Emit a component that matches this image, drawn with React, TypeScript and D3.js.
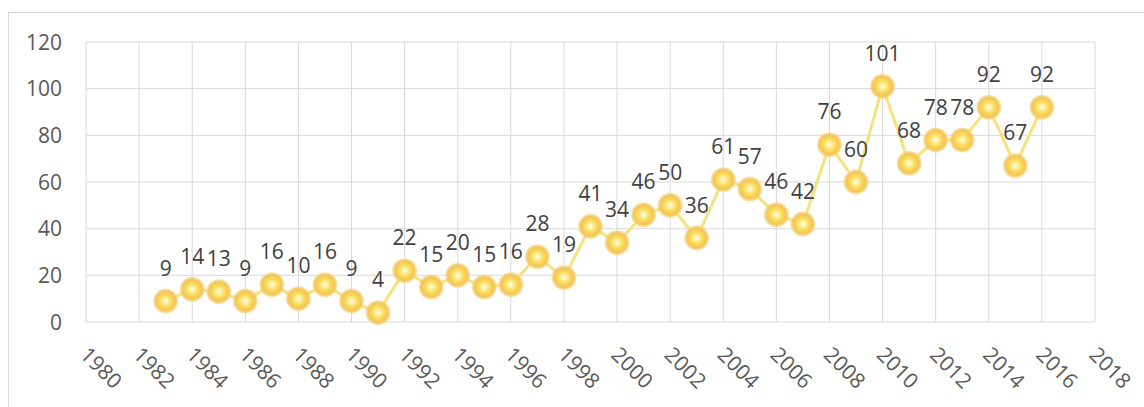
import React from "react";
import * as d3 from "d3";

const years = [1983,1984,1985,1986,1987,1988,1989,1990,1991,1992,1993,1994,1995,1996,1997,1998,1999,2000,2001,2002,2003,2004,2005,2006,2007,2008,2009,2010,2011,2012,2013,2014,2015,2016];
const values = [9,14,13,9,16,10,16,9,4,22,15,20,15,16,28,19,41,34,46,50,36,61,57,46,42,76,60,101,68,78,78,92,67,92];
const xTicks = [1980,1982,1984,1986,1988,1990,1992,1994,1996,1998,2000,2002,2004,2006,2008,2010,2012,2014,2016,2018];
const yTicks = [0,20,40,60,80,100,120];

const W = 1144, H = 407;
const L = 86, R = 1095, T = 42, B = 322;

export default function App() {
  const x = d3.scaleLinear().domain([1980, 2018]).range([L, R]);
  const y = d3.scaleLinear().domain([0, 120]).range([B, T]);
  const line = d3.line<number>().x((_, i) => x(years[i])).y(d => y(d));
  const font = "'Open Sans', sans-serif";
  return (
    <div style={{ position: "absolute", left: 0, top: 0 }}>
      <svg width={W} height={H} style={{ display: "block", background: "#fff" }}>
        <defs>
          <radialGradient id="mk" cx="50%" cy="50%" r="50%">
            <stop offset="0%" stopColor="#fffdf0" />
            <stop offset="20%" stopColor="#fdf0a8" />
            <stop offset="48%" stopColor="#f9dc55" />
            <stop offset="78%" stopColor="#f3c45e" />
            <stop offset="100%" stopColor="#f6d270" stopOpacity={0.55} />
          </radialGradient>
        </defs>
        <rect x={8.5} y={12.5} width={1150} height={420} fill="none" stroke="#d9d9d9" strokeWidth={1} />
        {yTicks.map(t => (
          <line key={"h" + t} x1={L} x2={R} y1={y(t)} y2={y(t)} stroke="#d9d9d9" strokeWidth={1} />
        ))}
        {xTicks.map(t => (
          <line key={"v" + t} x1={x(t)} x2={x(t)} y1={T} y2={B} stroke="#d9d9d9" strokeWidth={1} />
        ))}
        {yTicks.map(t => (
          <text key={"yl" + t} x={62} y={y(t) + 7.5} textAnchor="end" fontFamily={font} fontSize={21} fill="#595959">{t}</text>
        ))}
        {xTicks.map(t => (
          <text key={"xl" + t} transform={`translate(${x(t) - 7},${356}) rotate(45)`} textAnchor="start" fontFamily={font} fontSize={21} fill="#595959">{t}</text>
        ))}
        <path d={line(values) || ""} fill="none" stroke="#f5e27c" strokeWidth={3} strokeLinejoin="round" />
        {values.map((v, i) => (
          <circle key={"c" + i} cx={x(years[i])} cy={y(v)} r={12.5} fill="url(#mk)" />
        ))}
        {values.map((v, i) => (
          <text key={"dl" + i} x={x(years[i])} y={y(v) - 25.5} textAnchor="middle" fontFamily={font} fontSize={21} fill="#404040">{v}</text>
        ))}
      </svg>
    </div>
  );
}
